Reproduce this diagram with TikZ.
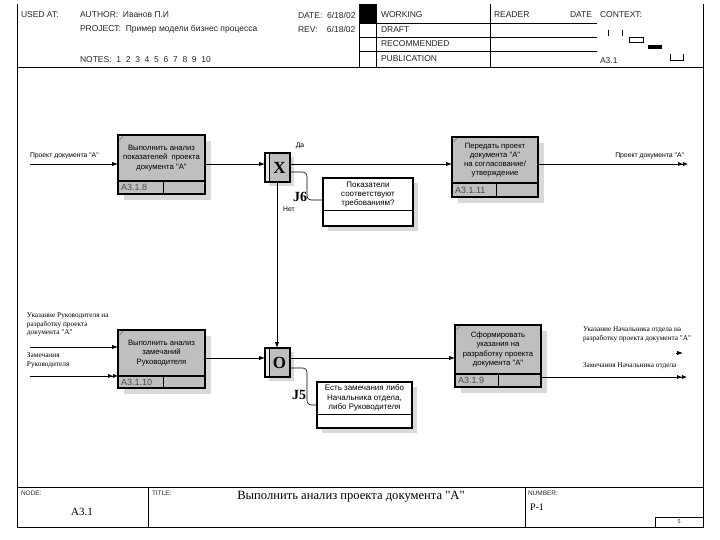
\documentclass[tikz,border=0pt]{standalone}
\usepackage{fontspec}
\setmainfont{Liberation Serif}
\setsansfont{Liberation Sans}
\usetikzlibrary{arrows.meta,fit}
\newcommand\qq{\textquotedbl}
\newcommand\actbox[9]{%
  \fill[shd] ({#2+6},{#3+6}) rectangle ({#4+6},{#5+6});
  \node[abox, fit={(#2,#3)(#4,#5)}] (#1) {};
  \draw[line width=1.1pt] (#2,#6) -- (#4,#6);
  \draw[line width=0.6pt] (#7,#6) -- (#7,#5);
  \node[idtext, anchor=west] (#1id) at ({#2+3},{(#6+#5)/2}) {#8};
  \draw[black!60, line width=0.5pt] ({#2+1.5},{#3+5}) -- ({#2+5},{#3+1.5});
  \node[boxtext] (#1t) at ({(#2+#4)/2},{(#3+#6)/2}) {#9};
}
\newcommand\juncbox[6]{%
  \fill[shd] ({#2+4},{#3+4}) rectangle ({#4+4},{#5+4});
  \node[abox, fit={(#2,#3)(#4,#5)}] (#1) {};
  \fill[black!8] ({#2+0.6},{#3+0.6}) rectangle ({#2+4},{#5-0.6});
  \draw[line width=0.7pt] ({#2+4},#3) -- ({#2+4},#5);
  \node[font=\bfseries\fontsize{17}{17}\selectfont] (#1l) at ({(#2+#4)/2+2},{(#3+#5)/2}) {#6};
}
\newcommand\notebox[7]{%
  \fill[shd] ({#2+5},{#3+5}) rectangle ({#4+5},{#5+5});
  \node[nbox, fit={(#2,#3)(#4,#5)}] (#1) {};
  \draw[line width=1pt] (#2,#6) -- (#4,#6);
  \node[notetext] (#1t) at ({(#2+#4)/2},{(#3+#6)/2}) {#7};
}
\begin{document}
\begin{tikzpicture}[x=1pt,y=-1pt,
  every node/.style={inner sep=0pt, outer sep=0pt},
  hdr/.style={font=\sffamily\fontsize{8.5}{9}\selectfont, anchor=west, text=black!85},
  ftr/.style={font=\sffamily\fontsize{6.5}{7}\selectfont, anchor=west, text=black!85},
  frame/.style={line width=0.8pt},
  shd/.style={fill=black!15},
  abox/.style={draw, line width=1.2pt, fill=black!25, inner sep=0pt},
  nbox/.style={draw, line width=1.2pt, fill=white, inner sep=0pt},
  boxtext/.style={font=\sffamily\fontsize{7.7}{9.2}\selectfont, align=center},
  notetext/.style={font=\sffamily\fontsize{8}{9.2}\selectfont, align=center},
  idtext/.style={font=\sffamily\fontsize{9}{10}\selectfont, text=black!70},
  conn/.style={line width=0.9pt},
  arr/.style={-{Latex[length=6pt,width=4.5pt]}},
  darr/.style={-{Latex[length=5pt,width=4.5pt]Latex[length=5pt,width=4.5pt]}},
  lab/.style={font=\fontsize{7.3}{8.4}\selectfont, align=left, anchor=west},
  slab/.style={font=\sffamily\fontsize{6.8}{7.5}\selectfont},
  jlab/.style={font=\bfseries\fontsize{14}{14}\selectfont},
]
\useasboundingbox[fill=white] (0,0) rectangle (720,540);

% ---------- frame ----------
\draw[frame] (17,4) -- (17,527) -- (703,527) -- (703,4);
\draw[frame] (17,67) -- (703,67);
\draw[frame] (17,487) -- (703,487);
\draw[frame] (359,4) -- (359,67);
\draw[frame] (376,4) -- (376,67);
\draw[frame] (490,4) -- (490,67);
\draw[frame] (359,23) -- (597,23);
\draw[frame] (359,37) -- (597,37);
\draw[frame] (359,51) -- (597,51);
\fill (359,4) rectangle (376,23);

% ---------- header texts ----------
\node[hdr] (usedat) at (21,15) {USED AT:};
\node[hdr] (author) at (80,15) {AUTHOR:\ \ Иванов П.И};
\node[hdr] (project) at (80,29) {PROJECT:\ \ Пример модели бизнес процесса};
\node[hdr] (notes) at (80,60) {NOTES:\ \ 1\ \ 2\ \ 3\ \ 4\ \ 5\ \ 6\ \ 7\ \ 8\ \ 9\ \ 10};
\node[hdr] (date) at (298,15) {DATE:\ \ 6/18/02};
\node[hdr] (rev) at (298,29) {REV:\ \ \ \ 6/18/02};
\node[hdr] (working) at (381,15) {WORKING};
\node[hdr] (draft) at (381,30) {DRAFT};
\node[hdr] (recom) at (381,44) {RECOMMENDED};
\node[hdr] (publ) at (381,59) {PUBLICATION};
\node[hdr] (reader) at (494,15) {READER};
\node[hdr] (rdate) at (570,15) {DATE};
\node[hdr] (context) at (600,15) {CONTEXT:};
\node[hdr] (ctxnode) at (600,61) {A3.1};
% context sketch
\draw[line width=0.6pt] (608,30) -- (608,36);
\draw[line width=0.6pt] (622,30) -- (622,36);
\draw[line width=0.6pt] (629,37) rectangle (643,42);
\fill (648,45) rectangle (662,49);
\draw[line width=0.6pt] (670,54) -- (670,60) -- (683,60) -- (683,54);

% ---------- footer ----------
\draw[frame] (148,487) -- (148,527);
\draw[frame] (525,487) -- (525,527);
\draw[frame] (655,527) -- (655,517) -- (703,517);
\node[ftr] (fnode) at (21,493) {NODE:};
\node[font=\fontsize{11}{12}\selectfont] (fnodev) at (82,512) {A3.1};
\node[ftr] (ftitle) at (152,493) {TITLE:};
\node[font=\fontsize{12.6}{13}\selectfont] (ftitlev) at (351,497) {Выполнить анализ проекта документа \qq А\qq};
\node[ftr] (fnum) at (528,493) {NUMBER:};
\node[font=\fontsize{10}{11}\selectfont, anchor=west] (fnumv) at (530,507) {Р-1};
\node[font=\fontsize{6}{7}\selectfont] (fpage) at (679,522) {5};

% ---------- activity boxes ----------
\actbox{b1}{118}{135}{205}{194}{181}{163}{A3.1.8}{Выполнить анализ\\показателей\ \ проекта\\документа \qq А\qq}
\actbox{b2}{452}{137}{538}{197}{183}{496}{A3.1.11}{Передать проект\\документа \qq А\qq\\на согласование/\\утверждение}
\actbox{b3}{118}{330}{205}{388}{376}{163}{A3.1.10}{Выполнить анализ\\замечаний\\Руководителя}
\actbox{b4}{455}{325}{541}{387}{374}{498}{A3.1.9}{Сформировать\\указания на\\разработку проекта\\документа \qq А\qq}

% ---------- junctions ----------
\juncbox{jx}{265}{153}{290}{182}{X}
\juncbox{jo}{265}{348}{290}{377}{O}
\node[jlab] (j6) at (300,197) {J6};
\node[jlab] (j5) at (299,395) {J5};

% ---------- notes ----------
\notebox{n6}{323}{178}{413}{226}{211}{Показатели\\соответствуют\\требованиям?}
\notebox{n5}{317}{382}{412}{428}{414}{Есть замечания либо\\Начальника отдела,\\либо Руководителя}

% ---------- coordinates ----------
\coordinate (in1) at (30,164);
\coordinate (out1) at (688,164);
\coordinate (vx) at (277,0);
\coordinate (in2) at (30,347);
\coordinate (in3) at (30,376);
\coordinate (mid2) at (0,358);
\coordinate (outA1) at (676,353);
\coordinate (outA2) at (683,353);
\coordinate (outB) at (687,377);

% ---------- connectors ----------
\draw[conn,arr] (in1) -- (b1.west |- in1);
\draw[conn,arr] (b1.east |- in1) -- (jx.west |- in1);
\draw[conn,arr] (jx.east |- in1) -- (b2.west |- in1);
\draw[conn,darr] (b2.east |- in1) -- (out1);
\draw[conn,arr] (jx.south -| vx) -- (jo.north -| vx);
\draw[line width=0.6pt, rounded corners=4pt] (jx.east |- 0,172) -- (307,172) -- (307,200) -- (n6.west |- 0,200);

\draw[conn,arr] (in2) -- (b3.west |- in2);
\draw[conn,darr] (in3) -- (b3.west |- in3);
\draw[conn,arr] (b3.east |- mid2) -- (jo.west |- mid2);
\draw[conn,arr] (jo.east |- mid2) -- (b4.west |- mid2);
\draw[line width=0.6pt, rounded corners=4pt] (jo.east |- 0,368) -- (307,368) -- (307,405) -- (n5.west |- 0,405);
\draw[conn,arr] (outA1) -- (outA2);
\draw[conn,darr] (b4.east |- outB) -- (outB);

% ---------- labels ----------
\node[slab, anchor=south west] (l1) at (30,159) {Проект документа \qq А\qq};
\node[slab, anchor=south east] (l2) at (684,159) {Проект документа \qq А\qq};
\node[slab] (lda) at (300,146) {Да};
\node[slab] (lnet) at (289,209) {Нет};
\node[lab, anchor=north west] (l3) at (27,313) {Указание Руководителя на\\разработку проекта\\документа \qq А\qq};
\node[lab, anchor=north west] (l4) at (27,353) {Замечания\\Руководителя};
\node[lab, anchor=north west] (l5) at (583,327) {Указание Начальника отдела на\\разработку проекта документа \qq А\qq};
\node[lab, anchor=north west] (l6) at (583,363) {Замечания Начальника отдела};
\end{tikzpicture}
\end{document}
